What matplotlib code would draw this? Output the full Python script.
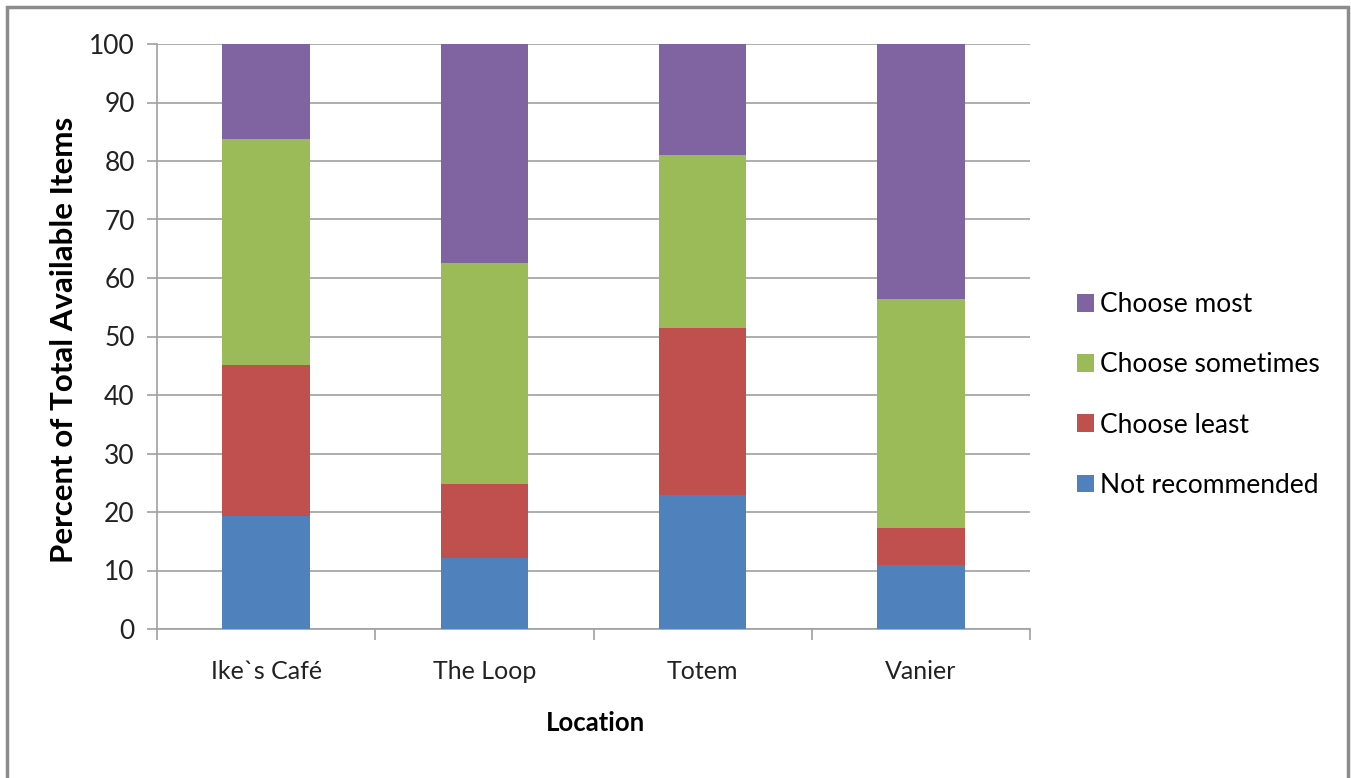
import numpy as np
import matplotlib
matplotlib.use("Agg")
import matplotlib.pyplot as plt
from matplotlib.patches import Rectangle

# values (percent of total available items)
locations = ["Ike`s Café", "The Loop", "Totem", "Vanier"]
not_recommended = [19.4, 12.2, 22.9, 10.9]
choose_least = [25.8, 12.6, 28.5, 6.3]
choose_sometimes = [38.55, 37.8, 29.7, 39.2]
choose_most = [16.25, 37.4, 18.9, 43.6]

series = [
    ("Not recommended", not_recommended, "#4f81bd"),
    ("Choose least", choose_least, "#c0504d"),
    ("Choose sometimes", choose_sometimes, "#9bbb59"),
    ("Choose most", choose_most, "#8064a2"),
]

plt.rcParams["font.family"] = ["Lato", "DejaVu Sans"]

W, H = 1351, 778
fig = plt.figure(figsize=(W / 100, H / 100), dpi=100)
ax = fig.add_axes([157 / W, 1 - 629 / H, (1030 - 157) / W, (629 - 44) / H])

# outer chart border
fig.patches.append(Rectangle((7 / W, -0.05), (1348 - 7) / W, 1.05 - 7 / H,
                             transform=fig.transFigure, fill=False,
                             edgecolor="#8c8c8c", linewidth=2.5))

x = np.arange(len(locations))
bottom = np.zeros(len(locations))
handles = []
for name, vals, color in series:
    b = ax.bar(x, vals, 0.4, bottom=bottom, color=color, label=name, zorder=3)
    handles.append(b)
    bottom += np.array(vals)

ax.set_xlim(-0.5, len(locations) - 0.5)
ax.set_ylim(0, 100)
ax.set_yticks(np.arange(0, 101, 10))
ax.yaxis.grid(True, color="#a0a0a0", linewidth=1.2, zorder=0)
ax.set_axisbelow(True)

ax.set_xticks(x)
ax.set_xticklabels(locations)
ax.set_xticks(np.arange(-0.5, len(locations), 1), minor=True)
ax.tick_params(axis="x", which="major", length=0, pad=22, labelsize=18, labelcolor="#222222")
ax.tick_params(axis="x", which="minor", length=8, color="#a0a0a0", width=1.2)
ax.tick_params(axis="y", length=7, color="#a0a0a0", width=1.2, labelsize=19, pad=9,
               labelcolor="#222222")

for side in ["top", "right"]:
    ax.spines[side].set_visible(False)
for side in ["left", "bottom"]:
    ax.spines[side].set_color("#a0a0a0")
    ax.spines[side].set_linewidth(1.2)

fig.text(595 / W, 1 - 723 / H, "Location", fontsize=18.5, fontweight="bold",
         ha="center", va="center")
fig.text(64 / W, 1 - 340 / H, "Percent of Total Available Items", fontsize=22.5,
         fontweight="bold", rotation=90, ha="center", va="center")

fig.legend(handles[::-1], [s[0] for s in series][::-1], loc="center left",
           bbox_to_anchor=(1053 / W, 1 - 395 / H), frameon=False,
           fontsize=19, handlelength=0.65, handleheight=0.65, handletextpad=0.25,
           labelspacing=1.33)

fig.savefig("out.png", dpi=100)
